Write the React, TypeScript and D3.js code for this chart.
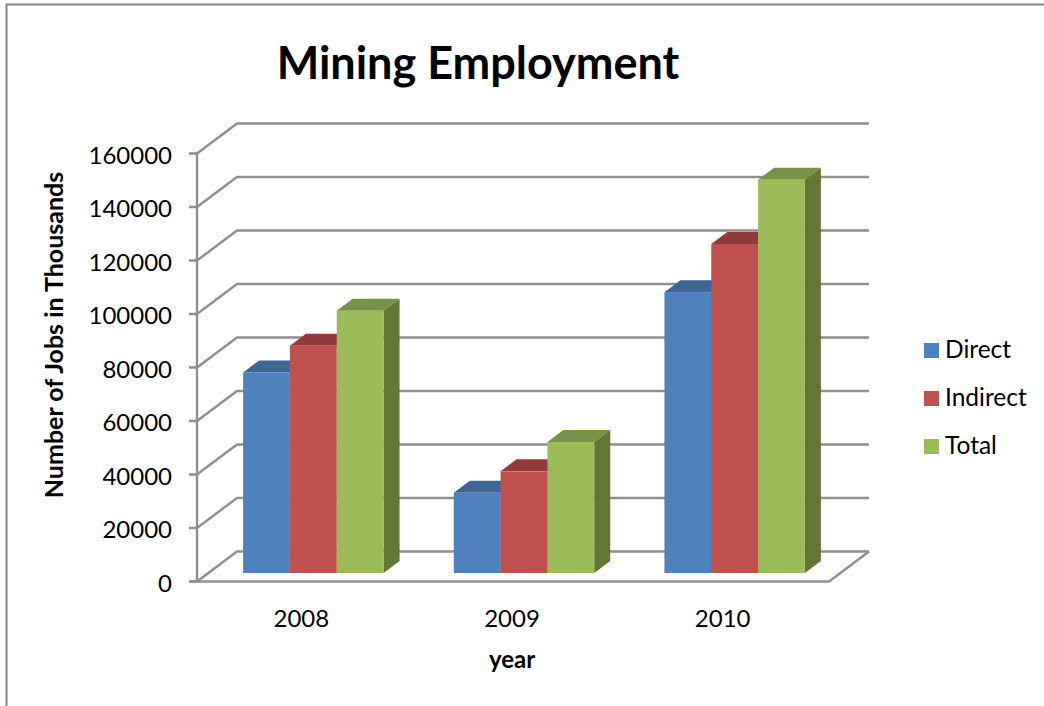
import React from "react";
import * as d3 from "d3";

const years = ["2008", "2009", "2010"];
const seriesNames = ["Direct", "Indirect", "Total"];
const direct = [75000, 30000, 105000];
const indirect = [85000, 38000, 123000];
const total = [98000, 49000, 147000];
const yTicks = [0, 20000, 40000, 60000, 80000, 100000, 120000, 140000, 160000];

const frontColors = ["#4f81bd", "#c0504d", "#9bbb59"];
const topColors = ["#3f6593", "#8f3b39", "#78924a"];
const sideColors = ["#3a5a85", "#853533", "#647635"];
const gridColor = "#8f8f8f";
const font = "Lato, 'Noto Sans', sans-serif";

const values = [direct, indirect, total];

// Front plane of the plot box and the offset of its back wall.
const y = d3.scaleLinear().domain([0, 160000]).range([581.5, 153.5]);
const x0 = d3.scaleBand().domain(years).range([197, 829]).paddingInner(1 / 3).paddingOuter(1 / 6);
const x1 = d3.scaleBand().domain(seriesNames).range([0, x0.bandwidth()]);
const wall = { dx: 40, dy: -30 };
const barDepth = { dx: 16, dy: -12 };
const barFront = { dx: 11, dy: -8.5 };

function Bar({ year, s, i }: { year: string; s: number; i: number }) {
  const left = x0(year)! + x1(seriesNames[s])! + barFront.dx;
  const right = left + x1.bandwidth();
  const base = y(0) + barFront.dy;
  const top = y(values[s][i]) + barFront.dy;
  const { dx, dy } = barDepth;
  const line = d3.line();
  return (
    <g>
      <path
        d={line([[left, top], [right, top], [right + dx, top + dy], [left + dx, top + dy]])! + "Z"}
        fill={topColors[s]}
      />
      <path
        d={line([[right, top], [right + dx, top + dy], [right + dx, base + dy], [right, base]])! + "Z"}
        fill={sideColors[s]}
      />
      <rect x={left} y={top} width={right - left} height={base - top} fill={frontColors[s]} />
    </g>
  );
}

export default function App() {
  const [xl, xr] = x0.range();
  return (
    <svg
      width={1044}
      height={706}
      style={{ position: "absolute", left: 0, top: 0, background: "#fff" }}
      fontFamily={font}
    >
      {/* chart frame, running off the right and bottom edges */}
      <path d="M6.5,706V4.5H1044" fill="none" stroke="#868686" strokeWidth={2} />

      <text x={478} y={79} textAnchor="middle" fontSize={45} fontWeight={700} fill="#000">
        Mining Employment
      </text>

      {/* value gridlines across the side and back walls */}
      {yTicks.map((t) => (
        <path
          key={t}
          d={`M${xl - 8},${y(t)}H${xl}L${xl + wall.dx},${y(t) + wall.dy}H${xr + wall.dx}`}
          fill="none"
          stroke={gridColor}
          strokeWidth={2.4}
        />
      ))}
      {/* floor and value axis */}
      <path
        d={`M${xl - 8},${y(0)}H${xr}L${xr + wall.dx},${y(0) + wall.dy}`}
        fill="none"
        stroke={gridColor}
        strokeWidth={2.4}
      />
      <path d={`M${xl},${y(0)}V${y(160000)}`} fill="none" stroke={gridColor} strokeWidth={2.4} />

      {years.map((year, i) =>
        seriesNames.map((_, s) => <Bar key={year + s} year={year} s={s} i={i} />)
      )}

      {yTicks.map((t) => (
        <text key={t} x={172} y={y(t) + 10} textAnchor="end" fontSize={24} fill="#000">
          {t}
        </text>
      ))}
      {years.map((year) => (
        <text
          key={year}
          x={x0(year)! + x0.bandwidth() / 2 - 1}
          y={627}
          textAnchor="middle"
          fontSize={24}
          fill="#000"
        >
          {year}
        </text>
      ))}

      <text x={512} y={668} textAnchor="middle" fontSize={24} fontWeight={700} fill="#000">
        year
      </text>
      <text
        transform="translate(63,335) rotate(-90)"
        textAnchor="middle"
        fontSize={25}
        fontWeight={700}
        fill="#000"
      >
        Number of Jobs in Thousands
      </text>

      {seriesNames.map((name, s) => (
        <g key={name} transform={`translate(924,${343 + s * 48})`}>
          <rect width={15} height={15} fill={frontColors[s]} />
          <text x={21} y={15} fontSize={24.5} fill="#000">
            {name}
          </text>
        </g>
      ))}
    </svg>
  );
}
